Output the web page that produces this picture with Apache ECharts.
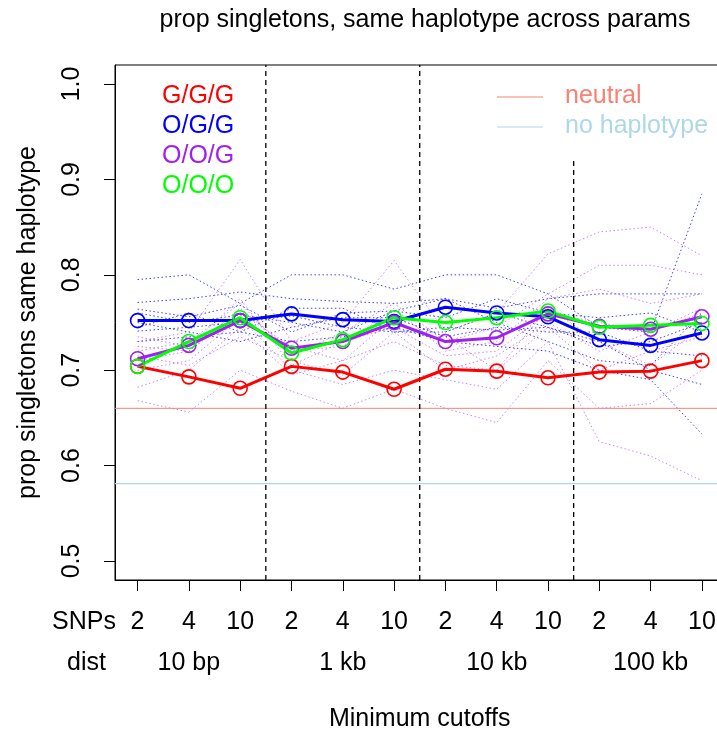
<!DOCTYPE html>
<html>
<head>
<meta charset="UTF-8">
<title>prop singletons</title>
<script type="text/javascript" src="https://cdn.jsdelivr.net/npm/echarts@6/dist/echarts.min.js"></script>
</head>
<body style="margin:0">
<div id="div" style="width:717px;height:734px"></div>
<script type="text/javascript">
// tick labels
var snpLabels = ['2', '4', '10', '2', '4', '10', '2', '4', '10', '2', '4', '10'];
var distLabels = ['10 bp', '1 kb', '10 kb', '100 kb'];
var distPos = [2, 5, 8, 11];
var dividers = [3.5, 6.5, 9.5];
var yTicks = [0.5, 0.6, 0.7, 0.8, 0.9, 1.0];

// main series
var ggg = [0.704, 0.693, 0.681, 0.704, 0.698, 0.680, 0.701, 0.699, 0.692, 0.698, 0.699, 0.710];
var ogg = [0.752, 0.752, 0.752, 0.759, 0.753, 0.751, 0.766, 0.760, 0.756, 0.732, 0.726, 0.739];
var oog = [0.712, 0.726, 0.752, 0.723, 0.730, 0.750, 0.730, 0.734, 0.759, 0.746, 0.743, 0.756];
var ooo = [0.704, 0.730, 0.755, 0.718, 0.732, 0.755, 0.750, 0.755, 0.762, 0.745, 0.747, 0.749];

// reference lines
var neutral = 0.660;
var noHaplotype = 0.581;

// individual runs (dotted)
var blueRuns = [
  [0.795, 0.800, 0.770, 0.800, 0.800, 0.785, 0.800, 0.800, 0.780, 0.745, 0.740, 0.885],
  [0.771, 0.775, 0.782, 0.775, 0.772, 0.770, 0.775, 0.765, 0.775, 0.780, 0.780, 0.780],
  [0.764, 0.756, 0.768, 0.740, 0.760, 0.762, 0.755, 0.775, 0.760, 0.755, 0.760, 0.740],
  [0.741, 0.745, 0.750, 0.757, 0.745, 0.740, 0.745, 0.742, 0.745, 0.730, 0.700, 0.685],
  [0.730, 0.735, 0.740, 0.730, 0.735, 0.745, 0.730, 0.725, 0.720, 0.700, 0.690, 0.633],
  [0.745, 0.760, 0.740, 0.765, 0.765, 0.740, 0.740, 0.760, 0.745, 0.725, 0.730, 0.750],
  [0.760, 0.750, 0.758, 0.750, 0.740, 0.762, 0.775, 0.750, 0.730, 0.710, 0.705, 0.760],
  [0.750, 0.740, 0.730, 0.745, 0.755, 0.755, 0.735, 0.745, 0.740, 0.740, 0.720, 0.715]
];
var purpleRuns = [
  [0.730, 0.740, 0.816, 0.730, 0.750, 0.815, 0.740, 0.760, 0.822, 0.845, 0.850, 0.820],
  [0.720, 0.730, 0.770, 0.715, 0.740, 0.770, 0.730, 0.745, 0.780, 0.810, 0.810, 0.800],
  [0.710, 0.720, 0.765, 0.720, 0.725, 0.765, 0.720, 0.730, 0.775, 0.785, 0.770, 0.780],
  [0.735, 0.725, 0.775, 0.705, 0.730, 0.745, 0.715, 0.720, 0.760, 0.750, 0.740, 0.765],
  [0.682, 0.700, 0.745, 0.695, 0.710, 0.730, 0.705, 0.700, 0.745, 0.700, 0.720, 0.735],
  [0.668, 0.656, 0.700, 0.678, 0.660, 0.680, 0.660, 0.645, 0.710, 0.660, 0.665, 0.700],
  [0.700, 0.710, 0.755, 0.700, 0.685, 0.700, 0.690, 0.680, 0.730, 0.625, 0.610, 0.584],
  [0.725, 0.720, 0.760, 0.725, 0.710, 0.755, 0.735, 0.700, 0.765, 0.730, 0.705, 0.745],
  [0.715, 0.705, 0.735, 0.710, 0.695, 0.740, 0.700, 0.715, 0.750, 0.720, 0.740, 0.760]
];

var XMIN = 0.56, XMAX = 12.44, YMIN = 0.48, YMAX = 1.02;
var FONT = 'Liberation Sans';
var FS = 25;

function pairs(arr) {
  var out = [];
  for (var i = 0; i < arr.length; i++) out.push([i + 1, arr[i]]);
  return out;
}
var xs = snpLabels.map(function (s, i) { return i + 1; });

var series = [];
blueRuns.forEach(function (r) {
  series.push({ type: 'line', data: pairs(r), symbol: 'none', silent: true,
    lineStyle: { color: '#0000FF', width: 1, type: [1.5, 2.5], opacity: 0.75 } });
});
purpleRuns.forEach(function (r) {
  series.push({ type: 'line', data: pairs(r), symbol: 'none', silent: true,
    lineStyle: { color: '#A020F0', width: 1, type: [1.5, 2.5], opacity: 0.55 } });
});
series.push({ type: 'line', data: [[XMIN, neutral], [XMAX, neutral]], symbol: 'none',
  lineStyle: { color: '#FA8072', width: 1 } });
series.push({ type: 'line', data: [[XMIN, noHaplotype], [XMAX, noHaplotype]], symbol: 'none',
  lineStyle: { color: '#ADD8E6', width: 1.2 } });
dividers.forEach(function (d, i) {
  var top = i === 2 ? 0.922 : YMAX;
  series.push({ type: 'line', data: [[d, YMIN], [d, top]], symbol: 'none',
    lineStyle: { color: '#000', width: 1.3, type: [5, 4] } });
});
[['G/G/G', ggg, '#FF0000'], ['O/G/G', ogg, '#0000FF'], ['O/O/G', oog, '#A020F0'], ['O/O/O', ooo, '#00FF00']]
  .forEach(function (s) {
    series.push({ name: s[0], type: 'line', data: pairs(s[1]), symbol: 'circle', symbolSize: 14,
      lineStyle: { color: s[2], width: 3 },
      itemStyle: { color: 'rgba(0,0,0,0)', borderColor: s[2], borderWidth: 1.6 } });
  });

var txt = function (s, fill) { return { text: s, fill: fill, font: FS + 'px "' + FONT + '"' }; };
var graphics = [];
[['G/G/G', '#FF0000'], ['O/G/G', '#0000FF'], ['O/O/G', '#A020F0'], ['O/O/O', '#00FF00']].forEach(function (l, i) {
  graphics.push({ type: 'text', left: 162, top: 84 + i * 30, style: txt(l[0], l[1]) });
});
[['neutral', '#FA8072'], ['no haplotype', '#ADD8E6']].forEach(function (l, i) {
  graphics.push({ type: 'line', shape: { x1: 497, y1: 97 + i * 30, x2: 543, y2: 97 + i * 30 },
    style: { stroke: l[1], lineWidth: 1.2 } });
  graphics.push({ type: 'text', left: 565, top: 84 + i * 30, style: txt(l[0], l[1]) });
});
graphics.push({ type: 'text', left: 52, top: 610, style: txt('SNPs', '#000') });
graphics.push({ type: 'text', left: 67, top: 651, style: txt('dist', '#000') });

var mychart = echarts.init(document.getElementById('div'));
var option = {
  animation: false,
  backgroundColor: '#fff',
  textStyle: { fontFamily: FONT },
  title: {
    text: 'prop singletons, same haplotype across params',
    left: 420, top: 3, textAlign: 'center',
    textStyle: { fontFamily: FONT, fontSize: FS, fontWeight: 'normal', color: '#000' }
  },
  grid: { left: 115, top: 65, width: 609.5, height: 515, outerBoundsMode: 'none', containLabel: false,
    show: true, borderColor: '#000', borderWidth: 1, backgroundColor: 'transparent' },
  xAxis: [{
    type: 'value', min: XMIN, max: XMAX,
    name: 'Minimum cutoffs', nameLocation: 'middle', nameGap: 127,
    nameTextStyle: { fontFamily: FONT, fontSize: FS, color: '#000' },
    axisLine: { show: true, onZero: false, lineStyle: { color: '#000' } },
    axisTick: { show: true, length: 11, customValues: xs, lineStyle: { color: '#000' } },
    axisLabel: { customValues: xs, margin: 30, fontSize: FS, color: '#000', fontFamily: FONT,
      formatter: function (v) { return snpLabels[Math.round(v) - 1]; } },
    splitLine: { show: false }
  }, {
    type: 'value', min: XMIN, max: XMAX, position: 'bottom', offset: 0,
    axisLine: { show: false }, axisTick: { show: false }, splitLine: { show: false },
    axisLabel: { customValues: distPos, margin: 71, fontSize: FS, color: '#000', fontFamily: FONT,
      formatter: function (v) { return distLabels[distPos.indexOf(Math.round(v))]; } }
  }],
  yAxis: {
    type: 'value', min: YMIN, max: YMAX,
    name: 'prop singletons same haplotype', nameLocation: 'middle', nameGap: 74,
    nameTextStyle: { fontFamily: FONT, fontSize: FS, color: '#000' },
    axisLine: { show: true, lineStyle: { color: '#000' } },
    axisTick: { show: true, length: 11, customValues: yTicks, lineStyle: { color: '#000' } },
    axisLabel: { customValues: yTicks, rotate: 90, margin: 30, fontSize: FS, color: '#000', fontFamily: FONT,
      formatter: function (v) { return v.toFixed(1); } },
    splitLine: { show: false }
  },
  graphic: graphics,
  series: series
};
mychart.setOption(option);
</script>
</body>
</html>
